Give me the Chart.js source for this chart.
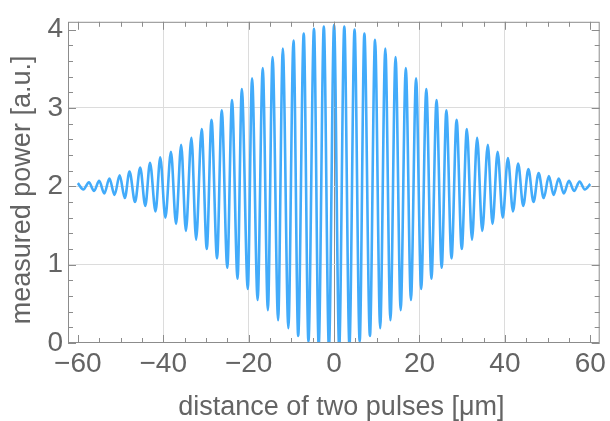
<!DOCTYPE html>
<html>
<head>
<meta charset="utf-8">
<script src="https://cdn.jsdelivr.net/npm/chart.js@4.4.1/dist/chart.umd.min.js"></script>
<style>
  html, body { margin: 0; padding: 0; background: #fff; }
  #wrap { width: 610px; height: 421px; }
</style>
</head>
<body>
<div id="wrap"><canvas id="chart" width="610" height="421"></canvas></div>
<script>
// extrema of the fringe pattern (x in µm, y in a.u.)
const pulseDistance = [
  -60, -58.7, -57.4, -56.2, -55.0, -53.8, -52.6, -51.4, -50.2, -49.0,
  -47.9, -46.6, -45.4, -44.2, -43.1, -41.8, -40.7, -39.5, -38.2, -37.0,
  -35.8, -34.7, -33.4, -32.3, -31.0, -29.8, -28.7, -27.4, -26.3, -25.0,
  -23.9, -22.6, -21.6, -20.2, -19.2, -17.9, -16.7, -15.5, -14.4, -13.1,
  -12.0, -10.7, -9.5, -8.4, -7.1, -6.0, -4.7, -3.6, -2.4, -1.2,
  0,
  1.2, 2.4, 3.6, 4.8, 6.0, 7.1, 8.4, 9.6, 10.8, 12.0,
  13.2, 14.4, 15.6, 16.8, 18.0, 19.2, 20.4, 21.6, 22.8, 24.0,
  25.2, 26.3, 27.5, 28.7, 29.9, 31.1, 32.3, 33.5, 34.7, 36.0,
  37.1, 38.3, 39.5, 40.7, 41.9, 43.1, 44.3, 45.5, 46.7, 47.9,
  49.1, 50.3, 51.4, 52.6, 53.8, 55.0, 56.2, 57.5, 58.7, 60
];
const measuredPower = [
  2.04, 1.96, 2.05, 1.94, 2.07, 1.91, 2.10, 1.89, 2.14, 1.85,
  2.19, 1.80, 2.24, 1.75, 2.30, 1.68, 2.37, 1.60, 2.44, 1.52,
  2.53, 1.43, 2.62, 1.32, 2.73, 1.20, 2.85, 1.08, 2.97, 0.96,
  3.10, 0.82, 3.24, 0.69, 3.38, 0.55, 3.51, 0.42, 3.65, 0.29,
  3.76, 0.19, 3.86, 0.09, 3.95, 0.02, 4.01, -0.03, 4.04, -0.06,
  4.06,
  -0.06, 4.04, -0.03, 4.00, 0.02, 3.95, 0.09, 3.87, 0.19, 3.76,
  0.29, 3.65, 0.42, 3.51, 0.55, 3.38, 0.69, 3.24, 0.82, 3.10,
  0.96, 2.97, 1.08, 2.85, 1.20, 2.73, 1.32, 2.62, 1.43, 2.53,
  1.52, 2.44, 1.60, 2.36, 1.68, 2.29, 1.75, 2.22, 1.80, 2.17,
  1.85, 2.13, 1.89, 2.10, 1.91, 2.07, 1.94, 2.06, 1.96, 2.03
];
const xTickValues = [-60, -40, -20, 0, 20, 40, 60];
const yTickValues = [0, 1, 2, 3, 4];

const textGray = "#646464";
const fontFamily = "'Liberation Sans', Arial, sans-serif";

// Mathematica-style frame with inward ticks on all four sides
const framePlugin = {
  id: "frame",
  afterDraw(chart) {
    const { ctx, chartArea: a, scales } = chart;
    const xs = scales.x, ys = scales.y;
    ctx.save();
    ctx.strokeStyle = "#8c8c8c";
    ctx.lineWidth = 1;
    ctx.strokeRect(a.left + 0.5, a.top + 0.5, a.right - a.left - 1, a.bottom - a.top - 1);
    ctx.beginPath();
    for (let v = -60; v <= 60; v += 5) {
      const px = Math.round(xs.getPixelForValue(v)) + 0.5;
      const len = v % 20 === 0 ? 8 : 5;
      ctx.moveTo(px, a.bottom); ctx.lineTo(px, a.bottom - len);
      ctx.moveTo(px, a.top); ctx.lineTo(px, a.top + len);
    }
    for (let i = 0; i <= 20; i++) {
      const v = i * 0.2;
      const py = Math.round(ys.getPixelForValue(v)) + 0.5;
      const len = i % 5 === 0 ? 8 : 5;
      ctx.moveTo(a.left, py); ctx.lineTo(a.left + len, py);
      ctx.moveTo(a.right, py); ctx.lineTo(a.right - len, py);
    }
    ctx.stroke();
    ctx.restore();
  }
};

const ctx = document.getElementById("chart").getContext("2d");
new Chart(ctx, {
  type: "line",
  data: {
    datasets: [{
      data: pulseDistance.map((x, i) => ({ x: x, y: measuredPower[i] })),
      borderColor: "#42abfa",
      borderWidth: 2.6,
      pointRadius: 0,
      cubicInterpolationMode: "monotone",
      fill: false
    }]
  },
  options: {
    responsive: false,
    animation: false,
    layout: { autoPadding: false, padding: { top: 13, right: 7, left: 0, bottom: 0 } },
    plugins: { legend: { display: false }, tooltip: { enabled: false } },
    scales: {
      x: {
        type: "linear",
        min: -62.3,
        max: 62.2,
        afterBuildTicks: (s) => { s.ticks = xTickValues.map((v) => ({ value: v })); },
        afterFit: (s) => { s.height = 78; },
        ticks: {
          color: textGray,
          padding: 4,
          maxRotation: 0,
          font: { family: fontFamily, size: 28 },
          callback: (v) => (v < 0 ? "\u2212" + Math.abs(v) : String(v))
        },
        grid: {
          drawTicks: false,
          color: (c) => {
            const v = c.tick && c.tick.value;
            if (v === 0) return "#8f8f8f";
            if (v === -60 || v === 60) return "rgba(0,0,0,0)";
            return "#dcdcdc";
          }
        },
        border: { display: false },
        title: {
          display: true,
          text: "  distance of two pulses [\u03bcm]",
          color: textGray,
          font: { family: fontFamily, size: 27 },
          padding: { top: 0, bottom: -3 }
        }
      },
      y: {
        min: 0,
        max: 4.1,
        afterBuildTicks: (s) => { s.ticks = yTickValues.map((v) => ({ value: v })); },
        afterFit: (s) => { s.width = 68; },
        ticks: {
          color: textGray,
          padding: 5,
          font: { family: fontFamily, size: 28 }
        },
        grid: {
          drawTicks: false,
          color: (c) => {
            const v = c.tick && c.tick.value;
            if (v === 0 || v === 4) return "rgba(0,0,0,0)";
            return "#dcdcdc";
          }
        },
        border: { display: false },
        title: {
          display: true,
          text: "measured power [a.u.]  ",
          color: textGray,
          font: { family: fontFamily, size: 27 },
          padding: { top: 6, bottom: 0 }
        }
      }
    }
  },
  plugins: [framePlugin]
});
</script>
</body>
</html>
